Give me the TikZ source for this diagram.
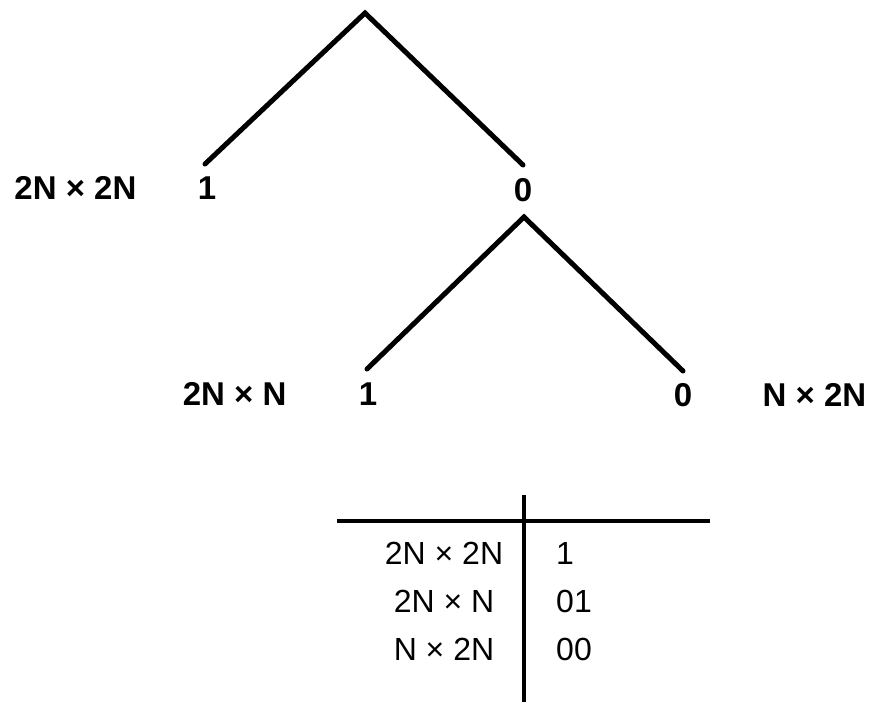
\documentclass[tikz,border=0pt]{standalone}
\usepackage{fontspec}
\setmainfont{Liberation Sans}
\usepackage{tikz}
\usetikzlibrary{positioning}

\begin{document}
\begin{tikzpicture}[x=1pt, y=-1pt,
  every node/.style={font=\fontsize{33}{36}\selectfont, inner sep=0pt},
  bit/.style={font=\fontsize{33}{36}\selectfont\bfseries},
  dims/.style={font=\fontsize{33}{36}\selectfont\bfseries},
  cell/.style={font=\fontsize{32}{36}\selectfont},
  branch/.style={line width=5pt, line cap=round},
  rule/.style={line width=3.5pt}]
\useasboundingbox (0,0) rectangle (872,702);
% first split
\coordinate (root) at (365,13);
\coordinate (e1) at (205,164);
\coordinate (e0) at (523,165);
\node[bit] (l1) at (207,188) {1};
\node[bit] (l0) at (523,190) {0};
\node[dims, left=61pt of l1] (d22) {2N × 2N};
\draw[branch] (e1)--(root)--(e0);
% second split
\coordinate (root2) at (524,217);
\coordinate (e01) at (367,369);
\coordinate (e00) at (683,371);
\node[bit] (l01) at (368,394) {1};
\node[bit] (l00) at (683,395) {0};
\node[dims, left=72pt of l01] (d21) {2N × N};
\node[dims, right=70pt of l00] (d12) {N × 2N};
\draw[branch] (e01)--(root2)--(e00);
% code table
\coordinate (vt) at (524,495);
\coordinate (vb) at (524,702);
\coordinate (hl) at (337,521);
\coordinate (hr) at (710,521);
\draw[rule] (hl)--(hr);
\draw[rule] (vt)--(vb);
\node[cell] (t22) at (444,553) {2N × 2N};
\node[cell] (t21) at (444,601) {2N × N};
\node[cell] (t12) at (444,649) {N × 2N};
\node[cell, anchor=west] (c22) at (556,553) {1};
\node[cell, anchor=west] (c21) at (556,601) {01};
\node[cell, anchor=west] (c12) at (556,649) {00};
\end{tikzpicture}
\end{document}
